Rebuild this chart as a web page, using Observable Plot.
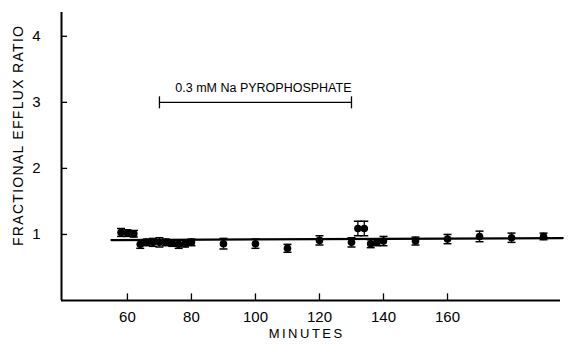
<!DOCTYPE html>
<html>
<head>
<meta charset="utf-8">
<script src="https://cdn.jsdelivr.net/npm/d3@7"></script>
<script src="https://cdn.jsdelivr.net/npm/@observablehq/plot@0.6"></script>
<style>
  html, body { margin: 0; padding: 0; background: #fff; }
  svg { font-family: "Liberation Sans", Arial, sans-serif; }
</style>
</head>
<body>
<div id="chart"></div>
<script>
// Data
const minutes = [58, 60, 62, 64, 66, 68, 70, 72, 74, 76, 78, 80, 90, 100, 110, 120, 130, 132, 134, 136, 138, 140, 150, 160, 170, 180, 190];
const ratios  = [1.03, 1.02, 1.01, 0.85, 0.88, 0.88, 0.88, 0.88, 0.87, 0.85, 0.86, 0.88, 0.86, 0.86, 0.79, 0.91, 0.88, 1.09, 1.09, 0.86, 0.88, 0.90, 0.90, 0.93, 0.97, 0.95, 0.97];
const errors  = [0.06, 0.05, 0.05, 0.06, 0.05, 0.06, 0.07, 0.05, 0.05, 0.06, 0.05, 0.05, 0.08, 0.07, 0.06, 0.07, 0.07, 0.11, 0.11, 0.06, 0.05, 0.07, 0.06, 0.07, 0.08, 0.07, 0.05];
const fitMinutes = [55, 196];
const fitRatios  = [0.915, 0.945];
const xTicks = [60, 80, 100, 120, 140, 160];
const yTicks = [1, 2, 3, 4];
const treatmentStart = [70];
const treatmentEnd = [130];
const treatmentLevel = [3.0];
const treatmentLabel = "0.3 mM Na PYROPHOSPHATE";
const xLabel = "MINUTES";
const yLabel = "FRACTIONAL EFFLUX RATIO";

const xDomain = [39.4, 195.3];
const yDomain = [0, 4.36];

const points = minutes.map((t, i) => ({t, r: ratios[i], e: errors[i]}));
const fit = fitMinutes.map((t, i) => ({t, r: fitRatios[i]}));
const bar = treatmentStart.map((s, i) => ({s, e: treatmentEnd[i], y: treatmentLevel[i]}));

const capSymbol = {
  draw(ctx, size) {
    const w = 4;
    ctx.moveTo(-w, 0);
    ctx.lineTo(w, 0);
  }
};
const endSymbol = {
  draw(ctx, size) {
    const h = 6;
    ctx.moveTo(0, -h);
    ctx.lineTo(0, h);
  }
};

const chart = Plot.plot({
  width: 573,
  height: 344,
  marginLeft: 61,
  marginRight: 13,
  marginTop: 12,
  marginBottom: 44,
  style: {fontFamily: "Liberation Sans, Arial, sans-serif", color: "#000", background: "#fff"},
  x: {domain: xDomain, axis: null},
  y: {domain: yDomain, axis: null},
  marks: [
    // axes lines
    Plot.ruleY([yDomain[0]], {stroke: "#000", strokeWidth: 2}),
    Plot.ruleX([xDomain[0]], {stroke: "#000", strokeWidth: 2}),
    // inward ticks
    Plot.ruleX(xTicks, {x: d => d, y1: 0, y2: 0.1, stroke: "#000", strokeWidth: 1.3}),
    Plot.ruleY(yTicks, {y: d => d, x1: xDomain[0], x2: xDomain[0] + 1.9, stroke: "#000", strokeWidth: 1.3}),
    Plot.axisX({ticks: xTicks, tickSize: 0, tickPadding: 11, fontSize: 15, tickFormat: d3.format("d"), label: null}),
    Plot.axisY({ticks: yTicks, tickSize: 0, tickPadding: 21, fontSize: 15, tickFormat: d3.format("d"), label: null}),
    // axis titles
    Plot.text([xLabel], {x: 116, y: 0, dy: 33, text: d => d, fontSize: 13, textAnchor: "middle", fill: "#000"}),
    Plot.text([yLabel], {x: xDomain[0], y: 2.5, dx: -43, rotate: -90, text: d => d, fontSize: 14, textAnchor: "middle", fill: "#000"}),
    // treatment bar
    Plot.ruleY(bar, {y: "y", x1: "s", x2: "e", stroke: "#000", strokeWidth: 1.3}),
    Plot.dot(bar, {x: "s", y: "y", symbol: endSymbol, stroke: "#000", strokeWidth: 1.3}),
    Plot.dot(bar, {x: "e", y: "y", symbol: endSymbol, stroke: "#000", strokeWidth: 1.3}),
    Plot.text(bar, {x: "e", y: "y", dy: -14, text: () => treatmentLabel, textAnchor: "end", fontSize: 12.5, fill: "#000"}),
    // regression line
    Plot.line(fit, {x: "t", y: "r", stroke: "#000", strokeWidth: 2.2}),
    // error bars
    Plot.ruleX(points, {x: "t", y1: d => d.r - d.e, y2: d => d.r + d.e, stroke: "#000", strokeWidth: 1.3}),
    Plot.dot(points, {x: "t", y: d => d.r + d.e, symbol: capSymbol, stroke: "#000", strokeWidth: 1.5}),
    Plot.dot(points, {x: "t", y: d => d.r - d.e, symbol: capSymbol, stroke: "#000", strokeWidth: 1.5}),
    // points
    Plot.dot(points, {x: "t", y: "r", r: 3.8, fill: "#000", stroke: "none"})
  ]
});

// letter spacing on the axis titles
d3.select(chart).selectAll("text").each(function() {
  const t = this.textContent;
  if (t === yLabel) this.setAttribute("letter-spacing", "1.3");
  if (t === xLabel) this.setAttribute("letter-spacing", "2.5");
});

document.getElementById("chart").appendChild(chart);
</script>
</body>
</html>
